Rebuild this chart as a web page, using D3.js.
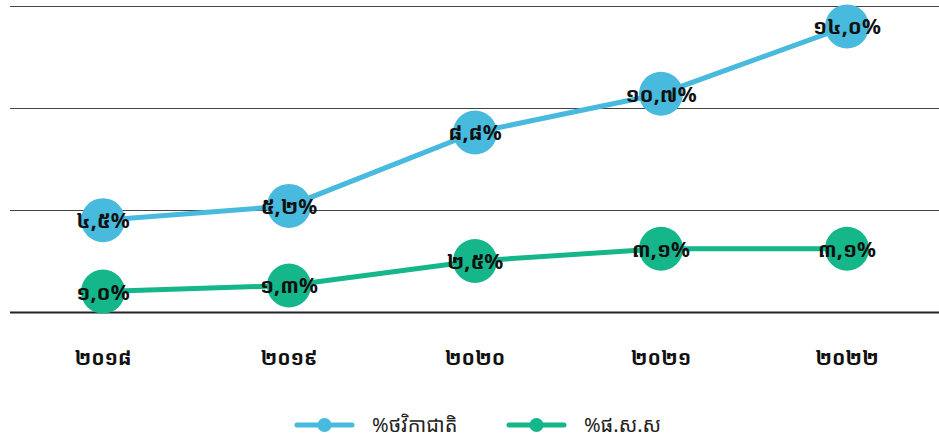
<!DOCTYPE html>
<html>
<head>
<meta charset="utf-8">
<script src="https://cdn.jsdelivr.net/npm/d3@7"></script>
<style>
  body { margin: 0; background: #fff; }
  text { font-family: "Noto Sans Khmer", "Khmer OS", "Noto Sans", sans-serif; }
</style>
</head>
<body>
<div id="chart"></div>
<script>
// chart data
const years = ["២០១៨", "២០១៩", "២០២០", "២០២១", "២០២២"];
const budgetShare = [4.5, 5.2, 8.8, 10.7, 14.0];
const gdpShare = [1.0, 1.3, 2.5, 3.1, 3.1];
const seriesNames = ["%ថវិកាជាតិ", "%ផ.ស.ស"];
const gridValues = [0, 5, 10, 15];

const width = 939, height = 438;
const margin = { left: 10, right: 0, top: 0 };
const colors = ["#47badd", "#14b68a"];

const khmerDigits = "០១២៣៤៥៦៧៨៩";
const toKhmer = s => s.replace(/[0-9]/g, d => khmerDigits[+d]);
const fmt = v => toKhmer(v.toFixed(1).replace(".", ",")) + "%";

const svg = d3.select("#chart")
    .append("svg")
    .attr("width", width)
    .attr("height", height);

const x = d3.scaleBand()
    .domain(years)
    .range([margin.left, width - margin.right + 1]);

const y = d3.scaleLinear()
    .domain([0, 15])
    .range([312, 6]);

// gridlines
svg.append("g")
  .selectAll("line")
  .data(gridValues)
  .enter()
  .append("line")
    .attr("x1", margin.left)
    .attr("x2", width)
    .attr("y1", d => Math.round(y(d)) + 0.5)
    .attr("y2", d => Math.round(y(d)) + 0.5)
    .attr("stroke", d => d === 0 ? "#222" : "#444")
    .attr("stroke-width", d => d === 0 ? 2 : 1);

// x axis labels
svg.append("g")
  .selectAll("text")
  .data(years)
  .enter()
  .append("text")
    .attr("x", d => x(d) + x.bandwidth() / 2)
    .attr("y", 365)
    .attr("text-anchor", "middle")
    .attr("font-size", 20)
    .attr("font-weight", "bold")
    .attr("fill", "#111")
    .text(d => d);

const allSeries = [budgetShare, gdpShare];
const line = d3.line()
    .x((d, i) => x(years[i]) + x.bandwidth() / 2)
    .y(d => y(d));

allSeries.forEach((vals, s) => {
  const g = svg.append("g");
  g.append("path")
    .datum(vals)
    .attr("fill", "none")
    .attr("stroke", colors[s])
    .attr("stroke-width", 5)
    .attr("d", line);

  g.selectAll("circle")
    .data(vals)
    .enter()
    .append("circle")
      .attr("cx", (d, i) => x(years[i]) + x.bandwidth() / 2)
      .attr("cy", d => y(d))
      .attr("r", 22)
      .attr("fill", colors[s]);

  g.selectAll("text")
    .data(vals)
    .enter()
    .append("text")
      .attr("x", (d, i) => x(years[i]) + x.bandwidth() / 2)
      .attr("y", d => y(d) + 8)
      .attr("text-anchor", "middle")
      .attr("font-size", 21)
      .attr("font-weight", "bold")
      .attr("fill", "#111")
      .text(d => fmt(d));
});

// legend
const legendX = [297, 509];
const legend = svg.append("g");
seriesNames.forEach((name, s) => {
  const lg = legend.append("g").attr("transform", `translate(${legendX[s]},425)`);
  lg.append("line")
    .attr("x1", 0).attr("x2", 55)
    .attr("stroke", colors[s])
    .attr("stroke-width", 5)
    .attr("stroke-linecap", "round");
  lg.append("circle")
    .attr("cx", 27.5).attr("r", 7)
    .attr("fill", colors[s]);
  lg.append("text")
    .attr("x", 75)
    .attr("y", 7)
    .attr("font-size", 20)
    .attr("fill", "#222")
    .text(name);
});
</script>
</body>
</html>
